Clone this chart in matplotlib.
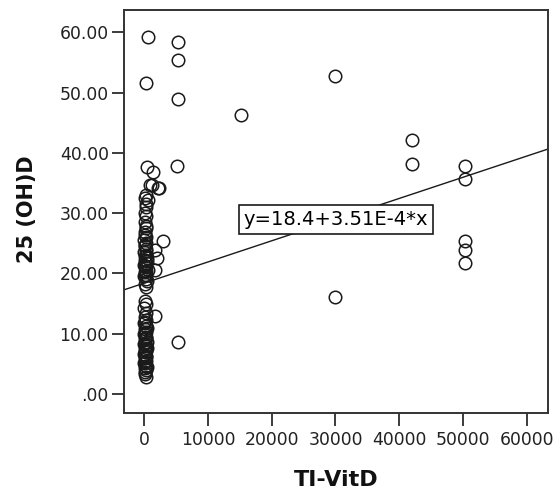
import numpy as np
import matplotlib
matplotlib.use("Agg")
import matplotlib.pyplot as plt

# Outlying points (TI-VitD, 25(OH)D)
x_out = [630, 5240, 5240, 270, 5300, 15100, 30000, 42000, 42000,
         50350, 50350, 50350, 50350, 50350, 30000,
         5080, 470, 1400, 2200, 900, 1160, 2350,
         3000, 1680, 1950, 1680, 1680, 5340]
y_out = [59.2, 58.4, 55.4, 51.6, 48.9, 46.3, 52.7, 42.1, 38.1,
         37.9, 35.7, 25.4, 23.9, 21.7, 16.1,
         37.9, 37.7, 36.9, 34.1, 34.7, 34.7, 34.1,
         25.3, 23.9, 22.5, 20.6, 12.9, 8.6]

# Dense column near zero
x_col = [300, 100, 500, 200, 100, 300, 100, 200, 100, 300, 0, 200,
         100, 300, 0, 200, 400, 100, 300, 0, 200, 500, 100, 300, 0,
         200, 100, 300,
         100, 300, 0, 200, 100, 300,
         0, 200, 100, 300, 0, 200, 100, 400, 0, 200, 100, 300, 0, 200,
         100, 300, 0, 200, 100, 300, 100, 200,
         50, 250, 150, 350, 50, 250, 150, 350, 50, 250,
         150, 350, 50, 250, 150, 350, 50, 250, 150, 350, 50, 250]
y_col = [33.0, 32.5, 32.2, 31.0, 30.0, 29.5, 28.5, 27.5, 26.8, 26.0, 25.5, 25.0,
         24.5, 24.0, 23.5, 23.0, 22.6, 22.2, 21.8, 21.4, 21.0, 20.6, 20.2, 19.8, 19.5,
         19.0, 18.3, 17.8,
         15.5, 15.0, 14.3, 13.5, 12.8, 12.2,
         11.7, 11.2, 10.8, 10.3, 9.9, 9.5, 9.1, 8.7, 8.3, 7.9, 7.5, 7.1, 6.7, 6.3,
         5.9, 5.5, 5.1, 4.7, 4.3, 3.9, 3.4, 2.9,
         24.8, 23.8, 22.9, 22.0, 21.2, 20.4, 19.7, 18.8, 26.3, 27.9,
         11.9, 11.0, 10.1, 9.3, 8.5, 7.7, 6.9, 6.1, 5.3, 4.5, 3.7, 31.5]

intercept = 18.4
slope = 3.51e-4
fit_label = "y=18.4+3.51E-4*x"

x_ticks = [0, 10000, 20000, 30000, 40000, 50000, 60000]
y_ticks = [0, 10, 20, 30, 40, 50, 60]
y_ticklabels = [".00", "10.00", "20.00", "30.00", "40.00", "50.00", "60.00"]

xlim = (-3190, 63350)
ylim = (-3.15, 63.7)

fig = plt.figure(figsize=(5.58, 4.98), dpi=100)
ax = fig.add_axes([124/558, 1-413/498, (548-124)/558, (413-10)/498])

xs = np.array(x_col + x_out)
ys = np.array(y_col + y_out)
ax.plot(xs, ys, linestyle='none', marker='o', ms=9, mfc='none',
        mec='#1a1a1a', mew=1.1, zorder=3)

lx = np.array(xlim)
ax.plot(lx, intercept + slope * lx, color='#1a1a1a', lw=1.0, zorder=2)

ax.text(30100, 29.0, fit_label, fontsize=14, ha='center', va='center',
        bbox=dict(boxstyle='square,pad=0.25', fc='white', ec='#1a1a1a', lw=1.2),
        zorder=4)

ax.set_xlim(*xlim)
ax.set_ylim(*ylim)
ax.set_xticks(x_ticks)
ax.set_xticklabels([str(v) for v in x_ticks])
ax.set_yticks(y_ticks)
ax.set_yticklabels(y_ticklabels)
ax.tick_params(axis='both', direction='out', length=9, width=1.2,
               labelsize=12.4, colors='#1a1a1a', labelcolor='#222222')
ax.tick_params(axis='x', pad=4)
ax.tick_params(axis='y', pad=2)
for s in ax.spines.values():
    s.set_linewidth(1.4)
    s.set_color('#333333')

fig.text(27/558, 1-208.7/498, "25 (OH)D", rotation=90, fontsize=15,
         fontweight='bold', ha='center', va='center', color='#111111')
fig.text(335.7/558, 1-480/498, "TI-VitD", fontsize=16,
         fontweight='bold', ha='center', va='center', color='#111111')

fig.savefig("out.png", dpi=100)
